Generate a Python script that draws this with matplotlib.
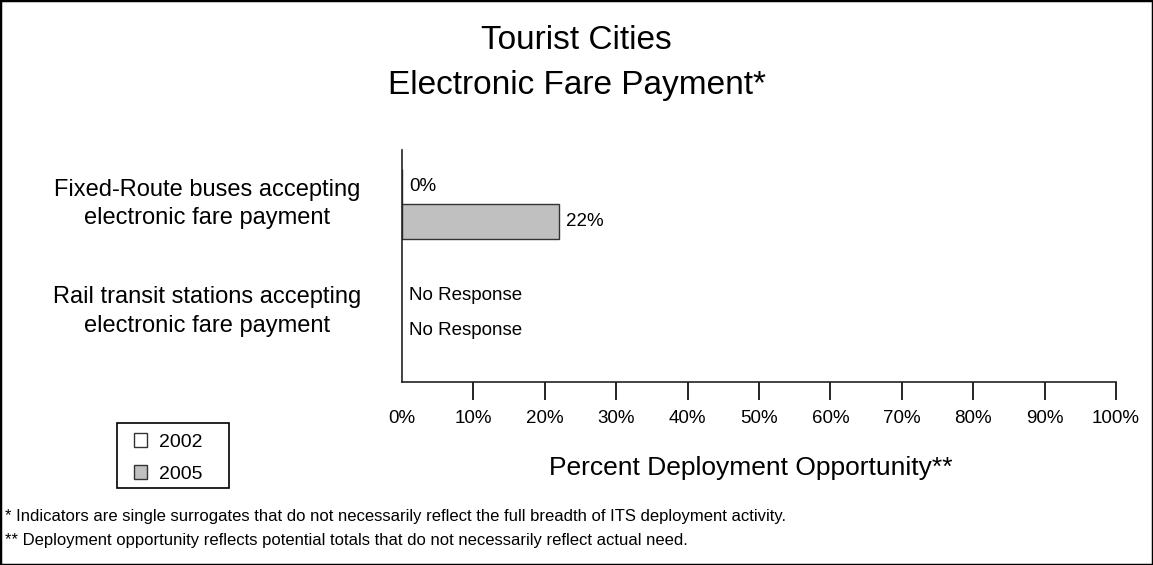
import matplotlib.pyplot as plt
import matplotlib.transforms as mtransforms
from matplotlib.patches import Patch, Rectangle
import numpy as np

plt.rcParams['font.family'] = ['Liberation Sans', 'DejaVu Sans']

# Data (None = no response)
categories = ["Fixed-Route buses accepting\nelectronic fare payment",
              "Rail transit stations accepting\nelectronic fare payment"]
years = ["2002", "2005"]
values_2002 = [0, None]
values_2005 = [22, None]
x_ticks = list(range(0, 101, 10))

colors = {"2002": "white", "2005": "#c0c0c0"}

fig = plt.figure(figsize=(11.53, 5.65), dpi=100)
ax = fig.add_axes([0.3487, 0.3239, 0.6193, 0.4106])

pos = np.arange(len(categories))
h = 0.327
for offset, year, vals in [(-h / 2, "2002", values_2002), (h / 2, "2005", values_2005)]:
    for y, v in zip(pos + offset, vals):
        if v is None:
            ax.annotate("No Response", (0, y), xytext=(5, 0), textcoords="offset points",
                        va="center_baseline", ha="left", fontsize=13.5)
            continue
        ax.barh(y, v, height=h, color=colors[year], edgecolor="#333333", linewidth=1)
        ax.annotate(f"{v}%", (v, y), xytext=(5, 0), textcoords="offset points",
                    va="center", ha="left", fontsize=13.5)

ax.set_xlim(0, 100)
ax.set_ylim(1.66, -0.505)
ax.set_xticks(x_ticks)
ax.set_xticklabels([f"{t}%" for t in x_ticks], fontsize=13.5)
ax.tick_params(axis="x", direction="out", length=13, width=1.2, pad=7)
ax.xaxis.get_major_ticks()[0].tick1line.set_visible(False)
ax.set_yticks([])
for s in ["top", "right"]:
    ax.spines[s].set_visible(False)
for s in ["left", "bottom"]:
    ax.spines[s].set_linewidth(1.2)
    ax.spines[s].set_color("#222222")

# category labels in the left margin
trans = mtransforms.blended_transform_factory(fig.transFigure, ax.transData)
for y, cat in zip(pos, categories):
    ax.text(0.1795, y, cat, transform=trans, ha="center", va="center",
            fontsize=17, linespacing=1.38)

fig.text(0.5, 0.929, "Tourist Cities", ha="center", va="center", fontsize=24)
fig.text(0.5, 0.848, "Electronic Fare Payment*", ha="center", va="center", fontsize=24)
fig.text(0.6514, 0.1717, "Percent Deployment Opportunity**", ha="center", va="center", fontsize=19)

fig.text(0.0043, 0.085, "* Indicators are single surrogates that do not necessarily reflect the full breadth of ITS deployment activity.",
         ha="left", va="center", fontsize=12)
fig.text(0.0043, 0.0425, "** Deployment opportunity reflects potential totals that do not necessarily reflect actual need.",
         ha="left", va="center", fontsize=12)

# legend: entries without frame, plus a plain box drawn around them
handles = [Patch(facecolor=colors[y], edgecolor="#333333", label=y) for y in years]
fig.legend(handles=handles, loc="center left", bbox_to_anchor=(124 / 1153, 1 - 458 / 565),
           frameon=False, fontsize=14, borderpad=0,
           handlelength=0.7, handleheight=0.7, handletextpad=0.6,
           labelspacing=0.75)
fig.patches.append(Rectangle((117 / 1153, 1 - 488 / 565), 112 / 1153, 65 / 565,
                             transform=fig.transFigure, fill=False,
                             edgecolor="black", linewidth=1.2))

fig.patches.append(Rectangle((0, 0), 1, 1, transform=fig.transFigure,
                             fill=False, edgecolor="black", linewidth=2.5))

fig.savefig("out.png", dpi=100)
